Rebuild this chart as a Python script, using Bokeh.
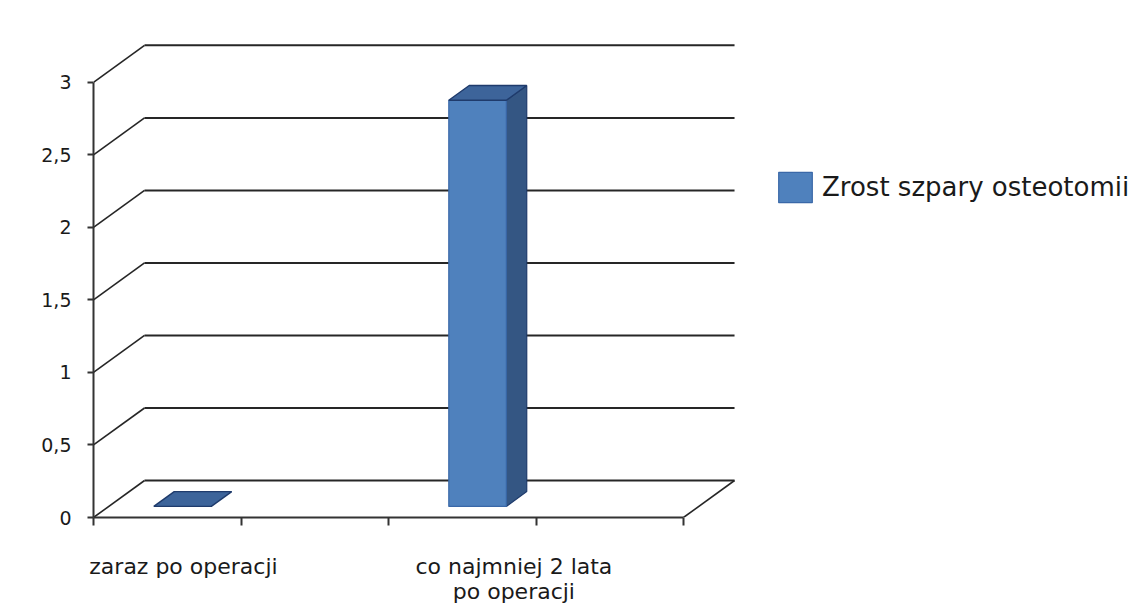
from bokeh.plotting import figure
from bokeh.models import (Range1d, LinearAxis, FixedTicker, CustomJSTickFormatter,
                          Legend, LegendItem, ColumnDataSource)
from bokeh.embed import file_html
from bokeh.resources import INLINE

# --- data -------------------------------------------------------------------
categories = ["zaraz po operacji", "", "co najmniej 2 lata\npo operacji", ""]
values = [0.0, None, 2.8, None]
series_name = "Zrost szpary osteotomii"
y_ticks = [0, 0.5, 1, 1.5, 2, 2.5, 3]
# horizontal nudge of each category label from its slot centre
label_shift = [0.11, 0.0, 0.35, 0.0]

# --- 3-D look ---------------------------------------------------------------
DX, DY = 0.346, 0.255      # depth offset of the back wall (x in slots, y in value units)
BAR_W = 0.39               # bar width in slot units
Z0, Z1 = 0.30, 0.70        # bar depth span (fraction of floor depth)
FRONT = "#4F81BD"
SIDE = "#345683"
TOP = "#3D649A"
EDGE = "#1F3B6C"
GRID = "#262626"
FONT = "DejaVu Sans"

n = len(categories)
y_top = y_ticks[-1]

p = figure(width=1134, height=606,
           x_range=Range1d(0, 1041 / 147.5), y_range=Range1d(0, 518 / 145.33),
           x_axis_type=None, y_axis_type=None,
           toolbar_location=None, output_backend="svg",
           min_border_left=93, min_border_right=0, min_border_top=0, min_border_bottom=88)
p.outline_line_color = None
p.background_fill_color = "white"
p.border_fill_color = "white"

# back wall gridlines
p.segment(x0=[DX] * len(y_ticks), y0=[t + DY for t in y_ticks],
          x1=[n + DX] * len(y_ticks), y1=[t + DY for t in y_ticks],
          line_color=GRID, line_width=2)
# side wall diagonals
p.segment(x0=[0] * len(y_ticks), y0=y_ticks,
          x1=[DX] * len(y_ticks), y1=[t + DY for t in y_ticks],
          line_color=GRID, line_width=1.6)
# right edge of the floor
p.segment(x0=[n], y0=[0], x1=[n + DX], y1=[DY], line_color=GRID, line_width=1.6)

# bars
fl, fr, fb, ft = [], [], [], []
side_xs, side_ys, top_xs, top_ys = [], [], [], []
ddx, ddy = (Z1 - Z0) * DX, (Z1 - Z0) * DY
for i, v in enumerate(values):
    if v is None:
        continue
    c = i + 0.5
    xl = c - BAR_W / 2 + Z0 * DX
    xr = c + BAR_W / 2 + Z0 * DX
    yb = Z0 * DY
    yt = v + Z0 * DY
    if v > 0:
        fl.append(xl); fr.append(xr); fb.append(yb); ft.append(yt)
        side_xs.append([xr, xr + ddx, xr + ddx, xr])
        side_ys.append([yb, yb + ddy, yt + ddy, yt])
    top_xs.append([xl, xr, xr + ddx, xl + ddx])
    top_ys.append([yt, yt, yt + ddy, yt + ddy])

p.patches(xs=side_xs, ys=side_ys, fill_color=SIDE, line_color=EDGE, line_width=1.2)
front = p.quad(source=ColumnDataSource(dict(left=fl, right=fr, bottom=fb, top=ft)),
               left="left", right="right", bottom="bottom", top="top",
               fill_color=FRONT, line_color="#3A68A8", line_width=1.2)
p.patches(xs=top_xs, ys=top_ys, fill_color=TOP, line_color=EDGE, line_width=1.4)

# value axis
yax = LinearAxis(ticker=FixedTicker(ticks=y_ticks),
                 formatter=CustomJSTickFormatter(code="return String(tick).replace('.', ',')"),
                 bounds=(0, y_top),
                 axis_line_color="#333333", axis_line_width=2,
                 major_tick_line_color="#333333", major_tick_line_width=2,
                 major_tick_out=6, major_tick_in=0,
                 minor_tick_out=0, minor_tick_in=0,
                 major_label_standoff=16,
                 major_label_text_font=FONT, major_label_text_font_size="19px",
                 major_label_text_color="#1A1A1A")
p.add_layout(yax, "left")

# category axis: slot boundary ticks
xa = LinearAxis(ticker=FixedTicker(ticks=list(range(n + 1))),
                formatter=CustomJSTickFormatter(code="return ''"),
                bounds=(0, n),
                axis_line_color="#333333", axis_line_width=2,
                major_tick_line_color="#333333", major_tick_line_width=2,
                major_tick_out=8, major_tick_in=0,
                minor_tick_out=0, minor_tick_in=0,
                major_label_standoff=0, major_label_text_font_size="0px")
p.add_layout(xa, "below")

# category axis: names
label_pos = [i + 0.5 + label_shift[i] for i, name in enumerate(categories) if name]
label_names = [name for name in categories if name]
xb = LinearAxis(ticker=FixedTicker(ticks=label_pos),
                formatter=CustomJSTickFormatter(
                    args=dict(pos=label_pos, names=label_names),
                    code="const i = pos.findIndex(q => Math.abs(q - tick) < 1e-6);"
                         "return i >= 0 ? names[i] : '';"),
                axis_line_color=None, major_tick_line_color=None,
                major_tick_out=0, major_tick_in=0,
                minor_tick_out=0, minor_tick_in=0,
                major_label_standoff=28,
                major_label_text_line_height=1.0,
                major_label_text_font=FONT, major_label_text_font_size="22px",
                major_label_text_color="#1A1A1A")
p.add_layout(xb, "below")

legend = Legend(items=[LegendItem(label=series_name, renderers=[front])],
                location=(681, 311), orientation="vertical",
                glyph_width=42, glyph_height=38, label_standoff=6,
                label_text_font=FONT, label_text_font_size="26px",
                label_text_color="#1A1A1A",
                padding=0, margin=0, spacing=0,
                border_line_color=None, background_fill_alpha=0)
p.add_layout(legend, "center")

open("out.html", "w").write(file_html(p, INLINE))
